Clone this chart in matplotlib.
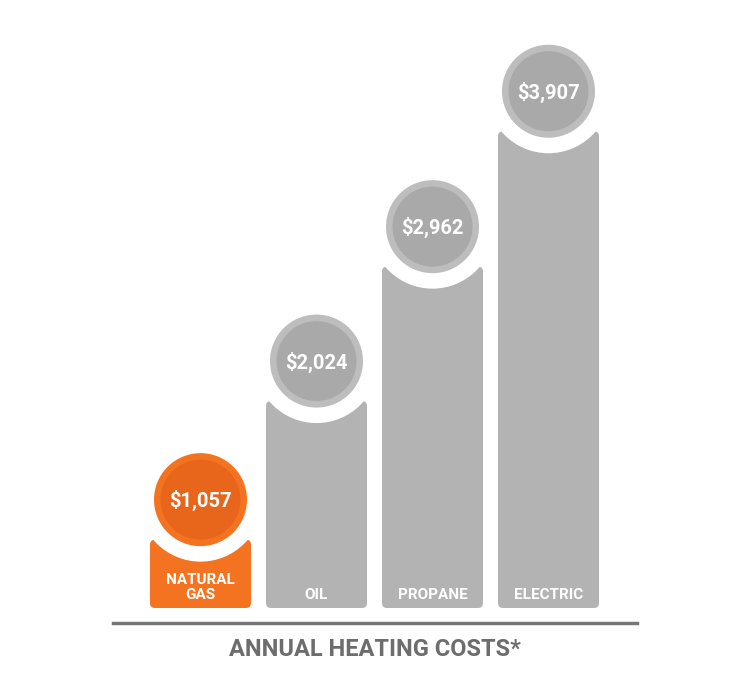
import matplotlib
matplotlib.use("Agg")
import matplotlib.pyplot as plt
from matplotlib.patches import FancyBboxPatch, Circle

categories = ["NATURAL\nGAS", "OIL", "PROPANE", "ELECTRIC"]
values = [1057, 2024, 2962, 3907]
labels = ["$1,057", "$2,024", "$2,962", "$3,907"]
title = "ANNUAL HEATING COSTS*"

fig = plt.figure(figsize=(7.5, 7.0), dpi=100)
ax = fig.add_axes([0, 0, 1, 1])
ax.set_xlim(0, 750)
ax.set_ylim(700, 0)
ax.axis("off")

bottom = 608
scale = 0.1433
offset = 580
for i, (cat, v, lab) in enumerate(zip(categories, values, labels)):
    x0 = 150 + i * 116
    w = 101
    top = bottom - (v - offset) * scale
    orange = i == 0
    bar_c = "#f37321" if orange else "#b3b3b3"
    ring_c = "#f47321" if orange else "#bdbdbd"
    fill_c = "#e8661c" if orange else "#a9a9a9"
    ax.add_patch(FancyBboxPatch((x0 + 5, top + 5), w - 10, bottom - top - 10,
                                boxstyle="round,pad=5", fc=bar_c, ec="none", zorder=1))
    cx = x0 + w / 2
    cy = top - 40
    ax.add_patch(Circle((cx, cy), 62, fc="white", ec="none", zorder=2))
    ax.add_patch(Circle((cx, cy), 46.5, fc=ring_c, ec="none", zorder=3))
    ax.add_patch(Circle((cx, cy), 40, fc=fill_c, ec="none", zorder=4))
    ax.text(cx, cy + 1, lab, ha="center", va="center", color="white",
            fontsize=14.5, fontweight="bold", family="Roboto", zorder=5)
    ax.text(cx, 599, cat, ha="center", va="baseline", color="white", fontsize=11,
            fontweight="bold", family="Roboto", linespacing=1.05, zorder=5)

ax.plot([113, 637], [622.5, 622.5], color="#777777", lw=2.5, zorder=1)
ax.text(375, 649, title, ha="center", va="center", color="#6d6d6d",
        fontsize=17, fontweight="bold", family="Roboto")

fig.savefig("out.png", dpi=100)
